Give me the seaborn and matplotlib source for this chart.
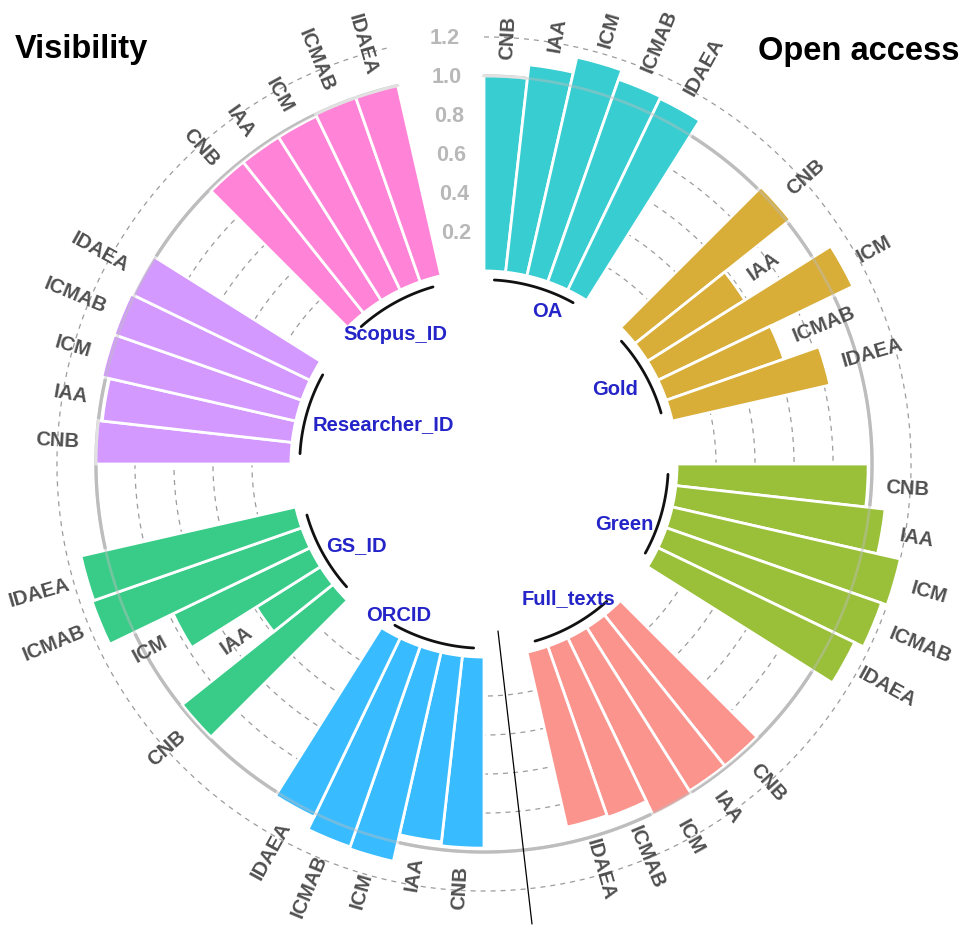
import numpy as np
import pandas as pd
import matplotlib.pyplot as plt
import seaborn as sns
from matplotlib.colors import to_rgb
from matplotlib.lines import Line2D

# groups go clockwise from 12 o'clock, five research centres each
groups = ['OA', 'Gold', 'Green', 'Full_texts', 'ORCID', 'GS_ID', 'Researcher_ID', 'Scopus_ID']
centres = ['CNB', 'IAA', 'ICM', 'ICMAB', 'IDAEA']

oa = [1.00, 1.07, 1.15, 1.10, 1.09]
gold = [1.02, 0.59, 1.11, 0.64, 0.83]
green = [0.98, 1.08, 1.20, 1.17, 1.12]
full_texts = [0.99, 0.99, 1.01, 0.93, 0.92]
orcid = [0.98, 0.96, 1.10, 1.09, 1.02]
gs_id = [0.99, 0.39, 0.78, 1.14, 1.13]
researcher_id = [1.00, 0.98, 1.02, 1.02, 1.01]
scopus_id = [0.99, 0.99, 0.99, 1.00, 1.00]

radial_ticks = [0.2, 0.4, 0.6, 0.8, 1.0, 1.2]

# colours (ggplot hue) and group-name placement
group_colors = ['#00BFC4', '#CD9600', '#7CAE00', '#F8766D', '#00A9FF', '#00BE67', '#C77CFF', '#FF61CC']
group_ha = ['left', 'center', 'right', 'center', 'right', 'left', 'left', 'center']
group_r = [-0.164, -0.21, -0.087, -0.185, -0.195, -0.064, -0.067, -0.176]
group_nudge = [(4, -1), (-2, 2), (0, -11), (9, 4), (-10, -2), (0, 7), (2, -9), (-12, -8)]

n_empty = 2
per_group = len(centres) + n_empty
n_slots = per_group * len(groups)
slot_w = 2 * np.pi / n_slots


def blend(c, alpha=0.78):
    # flat colour of a translucent fill on white
    return tuple(alpha * v + (1 - alpha) for v in to_rgb(c))


series = [oa, gold, green, full_texts, orcid, gs_id, researcher_id, scopus_id]
rows = []
for g, (name, vals) in enumerate(zip(groups, series)):
    for j, (c, v) in enumerate(zip(centres, vals)):
        rows.append({'group': name, 'centre': c, 'value': v,
                     'slot': g * per_group + j, 'color': blend(group_colors[g])})
df = pd.DataFrame(rows)
df['theta'] = (df['slot'] + 0.5) * slot_w

sns.set_theme(style='white')
plt.rcParams['font.family'] = ['Liberation Sans', 'DejaVu Sans']

W, H = 965, 929
cx, cy = 484, 465          # centre in pixels (from top-left)
px_unit = 195.0            # pixels per data unit
r_min, r_max = -0.99, 1.40
R = (r_max - r_min) * px_unit

fig = plt.figure(figsize=(W / 100, H / 100), dpi=100)
ax = fig.add_axes([(cx - R) / W, (H - cy - R) / H, 2 * R / W, 2 * R / H], projection='polar')
ax.set_theta_zero_location('N')
ax.set_theta_direction(-1)
ax.set_ylim(r_min, r_max)
ax.set_xticks([])
ax.set_yticks([])
ax.grid(False)
ax.spines['polar'].set_visible(False)
ax.set_facecolor('none')

# reference circles, left open in the wedge that holds the scale
arc_all = np.linspace(0, (n_slots - n_empty) * slot_w, 500)
for t in radial_ticks:
    if t == 1.0:
        ax.plot(arc_all, np.full_like(arc_all, t), color='#bdbdbd', lw=2.4, zorder=0.8)
        ax.plot(arc_all, np.full_like(arc_all, t), color='#bdbdbd', lw=2.0, alpha=0.45, zorder=1.5)
    else:
        ax.plot(arc_all, np.full_like(arc_all, t), color='#9c9c9c',
                linestyle=(0, (4, 4)), lw=0.9, zorder=0.7)

# bars
ax.bar(df['theta'], df['value'], width=slot_w, bottom=0, color=df['color'],
       edgecolor='white', linewidth=2.0, zorder=1)

# centre labels at the end of every bar
for _, row in df.iterrows():
    deg = np.degrees(row['theta'])
    if deg < 180:
        rot, ha = 90 - deg, 'left'
    else:
        rot, ha = 270 - deg, 'right'
    ax.text(row['theta'], row['value'] + 0.09, row['centre'], rotation=rot,
            rotation_mode='anchor', ha=ha, va='center', fontsize=14.5,
            fontweight='bold', color='#505050')

# group arcs and names
for g, name in enumerate(groups):
    t0 = (g * per_group + 0.5) * slot_w
    t1 = (g * per_group + len(centres) - 0.5) * slot_w
    arc = np.linspace(t0, t1, 60)
    ax.plot(arc, np.full_like(arc, -0.045), color='#111111', lw=2.0)
    ax.annotate(name, xy=((t0 + t1) / 2, group_r[g]), xytext=group_nudge[g],
                textcoords='offset pixels', ha=group_ha[g], va='center',
                fontsize=14.5, fontweight='bold', color='#2424c8')

# radial scale in the empty wedge before 12 o'clock
lab_theta = (n_slots - 0.5) * slot_w
for t in radial_ticks:
    ax.text(lab_theta, t, f'{t:.1f}', ha='right', va='center',
            fontsize=15.5, fontweight='bold', color='#b8b8b8')

fig.text(15 / W, 1 - 58 / H, 'Visibility', fontsize=23.5, fontweight='bold',
         va='baseline', color='black')
fig.text(758 / W, 1 - 60 / H, 'Open access', fontsize=23.5, fontweight='bold',
         va='baseline', color='black')

# divider between the two halves
fig.add_artist(Line2D([498 / W, 532 / W], [1 - 632 / H, 1 - 925 / H],
                      transform=fig.transFigure, color='black', lw=0.9))

fig.savefig('out.png', dpi=100)
